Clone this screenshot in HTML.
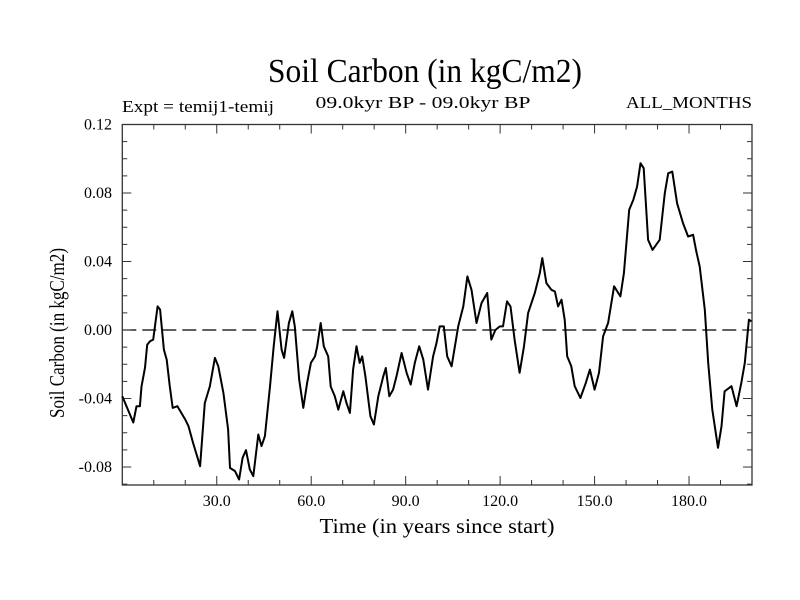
<!DOCTYPE html>
<html><head><meta charset="utf-8"><style>
html,body{margin:0;padding:0;background:#fff;}
svg{display:block;font-family:"Liberation Serif",serif;}
</style></head><body>
<svg id="chart" width="800" height="600" viewBox="0 0 800 600">
<rect x="0" y="0" width="800" height="600" fill="#fff"/>
<text x="425" y="82" font-size="34" text-anchor="middle" textLength="314" lengthAdjust="spacingAndGlyphs">Soil Carbon (in kgC/m2)</text>
<text x="423" y="108" font-size="17" text-anchor="middle" textLength="215" lengthAdjust="spacingAndGlyphs">09.0kyr BP - 09.0kyr BP</text>
<text x="122" y="112" font-size="17" textLength="152" lengthAdjust="spacingAndGlyphs">Expt = temij1-temij</text>
<text x="752" y="108" font-size="17" text-anchor="end" textLength="126" lengthAdjust="spacingAndGlyphs">ALL_MONTHS</text>
<text transform="translate(64,333) rotate(-90)" font-size="21" text-anchor="middle" textLength="170" lengthAdjust="spacingAndGlyphs">Soil Carbon (in kgC/m2)</text>
<text x="437" y="533" font-size="21" text-anchor="middle" textLength="235" lengthAdjust="spacingAndGlyphs">Time (in years since start)</text>
<g id="axes"></g>
</svg>
<script>
const years = [0,3.5,4.5,5.6,6.1,7.2,7.9,8.8,9.8,11.2,12,13.2,14.1,15.1,16,17.5,18.3,19.9,21,22.5,24.7,26.2,27.8,29.4,30.5,32.1,33.6,34.2,35.8,37.1,38.2,39.3,40.5,41.6,43.2,44.2,45.3,46.9,48.1,49.3,50.6,51.4,52.9,54,54.8,56.2,57.5,58.7,59.9,61.2,61.9,63,64,65.4,66.2,67.5,68.6,70.2,71.2,72.3,73.3,74.4,75.4,76.2,77.2,78.8,79.9,81.3,82.9,83.7,84.8,86,87.1,88.7,90.3,91.6,92.9,94.3,95.6,97.1,98.7,99.8,100.8,102.1,103.2,104.6,106.7,108.3,109.6,110.9,112.5,114.1,115.9,117.2,118.5,119.9,120.9,122.2,123.3,124.6,126.2,127.6,128.9,131,132.6,133.4,134.7,136.3,137.4,138.4,139.5,140.5,141.3,142.6,143.7,145.5,147.2,148.5,150,151.4,152.7,154.3,156.2,158.2,159.3,161,162.3,163.5,164.6,165.6,167,168.4,170.7,172.3,173.4,174.7,176.2,178.1,179.7,181.3,182.3,183.4,185,186.1,187.4,189.2,190.3,191.3,193.5,195.1,196.6,197.7,199,199.8];
const carbon = [-0.0387,-0.054,-0.0445,-0.0445,-0.033,-0.022,-0.0086,-0.0066,-0.0056,0.0138,0.0119,-0.0115,-0.0173,-0.033,-0.0455,-0.0445,-0.047,-0.052,-0.056,-0.066,-0.0795,-0.0426,-0.033,-0.0163,-0.0212,-0.0367,-0.058,-0.0805,-0.0824,-0.0873,-0.0746,-0.0702,-0.0814,-0.0853,-0.061,-0.0678,-0.062,-0.033,-0.0095,0.0109,-0.0115,-0.0163,0.0041,0.0109,0.0021,-0.029,-0.0455,-0.031,-0.0192,-0.0154,-0.0095,0.0041,-0.0095,-0.0154,-0.033,-0.0387,-0.0465,-0.0357,-0.0426,-0.0484,-0.0231,-0.0095,-0.0192,-0.0154,-0.027,-0.0503,-0.0552,-0.0387,-0.027,-0.0222,-0.0387,-0.0348,-0.027,-0.0134,-0.025,-0.0319,-0.0192,-0.0095,-0.0173,-0.0348,-0.0154,-0.0076,0.0021,0.0021,-0.0154,-0.0212,0.0021,0.0138,0.0313,0.0235,0.0041,0.0157,0.0216,-0.0056,0,0.0021,0.0021,0.0167,0.0138,-0.0056,-0.025,-0.0095,0.0099,0.0216,0.0332,0.042,0.0274,0.0235,0.0225,0.0138,0.0177,0.006,-0.0154,-0.0212,-0.0328,-0.0397,-0.0309,-0.0231,-0.0348,-0.025,-0.0037,0.0041,0.0255,0.0196,0.0332,0.0702,0.076,0.0838,0.0974,0.0945,0.0527,0.0468,0.0527,0.0799,0.0915,0.0925,0.074,0.0624,0.0546,0.0556,0.0459,0.0371,0.0119,-0.0192,-0.0465,-0.0688,-0.0562,-0.0358,-0.0328,-0.0445,-0.0309,-0.0192,0.006,0.005];
const xTicks = [30,60,90,120,150,180];
const xTickLabels = ["30.0","60.0","90.0","120.0","150.0","180.0"];
const yTicks = [0.12,0.08,0.04,0.00,-0.04,-0.08];
const yTickLabels = ["0.12","0.08","0.04","0.00","-0.04","-0.08"];

const L=122.3,R=752,T=124.5,B=485, X0=0,X1=200, Y0=-0.0905,Y1=0.12;
const sx=v=>L+(v-X0)/(X1-X0)*(R-L);
const sy=v=>B-(v-Y0)/(Y1-Y0)*(B-T);
const NS="http://www.w3.org/2000/svg";
const g=document.getElementById('axes');
function mk(tag,attrs){const e=document.createElementNS(NS,tag);for(const k in attrs)e.setAttribute(k,attrs[k]);g.appendChild(e);return e;}

// zero line
const z=mk('line',{x1:L,x2:R,y1:sy(0),y2:sy(0),stroke:'#000','stroke-width':1.2,'stroke-dasharray':'14,6'});



// minor & major ticks
for(let v=10;v<200;v+=10){
  const major=v%30===0, len=major?9:5;
  const t1=mk('line',{x1:sx(v),x2:sx(v),y1:B,y2:B-len,stroke:'#333','stroke-width':1});
  
  
  const t2=mk('line',{x1:sx(v),x2:sx(v),y1:T,y2:T+len,stroke:'#333','stroke-width':1});
  
  
}
for(let i=-9;i<=12;i++){
  const v=i/100; const major=i%4===0, len=major?9:5;
  const t1=mk('line',{x1:L,x2:L+len,y1:sy(v),y2:sy(v),stroke:'#333','stroke-width':1});
  
  
  const t2=mk('line',{x1:R,x2:R-len,y1:sy(v),y2:sy(v),stroke:'#333','stroke-width':1});
  
  
}
xTicks.forEach((v,i)=>{
  const t=mk('text',{x:sx(v),y:506,'font-size':16,'text-anchor':'middle'});
  t.textContent=xTickLabels[i];
  
  
});
yTicks.forEach((v,i)=>{
  const t=mk('text',{x:112,y:sy(v)+5,'font-size':16,'text-anchor':'end'});
  t.textContent=yTickLabels[i];
  
  
});
// frame
const f=mk('rect',{x:L,y:T,width:R-L,height:B-T,fill:'none',stroke:'#333','stroke-width':1.3});


// series
const d=years.map((y,i)=>(i?'L':'M')+sx(y).toFixed(1)+','+sy(carbon[i]).toFixed(1)).join(' ');
const p=mk('path',{d:d,fill:'none',stroke:'#000','stroke-width':2,'stroke-linejoin':'round'});


</script>
</body></html>
